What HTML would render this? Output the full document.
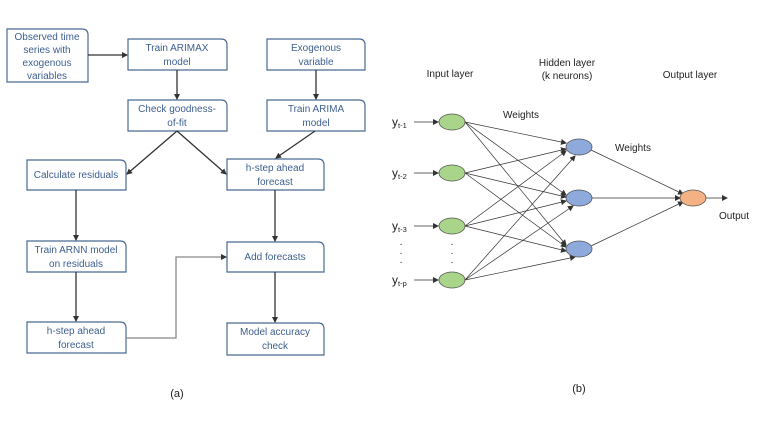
<!DOCTYPE html>
<html><head><style>
body{margin:0;background:#fff;}
svg{display:block;font-family:"Liberation Sans",sans-serif;}
.bx{fill:#fff;stroke:#4a6a95;stroke-width:1.2;}
.t{fill:#3d5f8f;font-size:10px;text-anchor:middle;}
.k{fill:#222;font-size:10px;text-anchor:middle;}
.ln{stroke:#333;stroke-width:1.3;fill:none;}
.nl{stroke:#333;stroke-width:0.7;fill:none;}
</style></head><body>
<svg width="765" height="431" viewBox="0 0 765 431">
<defs>
<marker id="a" markerWidth="6" markerHeight="6" refX="5" refY="3" orient="auto" markerUnits="userSpaceOnUse"><path d="M0,0L6,3L0,6z" fill="#333"/></marker>
</defs>
<g id="boxes">
<path class="bx" d="M7,29H82Q88,29 88,35V82H7Z"/>
<path class="bx" d="M128,39H221Q227,39 227,45V70H128Z"/>
<path class="bx" d="M267,39H359Q365,39 365,45V70H267Z"/>
<path class="bx" d="M128,100H221Q227,100 227,106V131H128Z"/>
<path class="bx" d="M267,100H359Q365,100 365,106V131H267Z"/>
<path class="bx" d="M27,160H120Q126,160 126,166V190H27Z"/>
<path class="bx" d="M227,159H318Q324,159 324,165V190H227Z"/>
<path class="bx" d="M27,241H120Q126,241 126,247V272H27Z"/>
<path class="bx" d="M227,242H318Q324,242 324,248V272H227Z"/>
<path class="bx" d="M27,322H120Q126,322 126,328V353H27Z"/>
<path class="bx" d="M227,323H318Q324,323 324,329V355H227Z"/>
</g>
<g class="t">
<text x="47" y="40">Observed time</text><text x="47" y="53">series with</text><text x="47" y="66">exogenous</text><text x="47" y="79">variables</text>
<text x="177" y="51">Train ARIMAX</text><text x="177" y="65">model</text>
<text x="316" y="51">Exogenous</text><text x="316" y="65">variable</text>
<text x="177" y="112">Check goodness-</text><text x="177" y="126">of-fit</text>
<text x="316" y="112">Train ARIMA</text><text x="316" y="126">model</text>
<text x="76" y="178">Calculate residuals</text>
<text x="275" y="171">h-step ahead</text><text x="275" y="185">forecast</text>
<text x="76" y="253">Train ARNN model</text><text x="76" y="267">on residuals</text>
<text x="275" y="260">Add forecasts</text>
<text x="76" y="334">h-step ahead</text><text x="76" y="348">forecast</text>
<text x="275" y="335">Model accuracy</text><text x="275" y="349">check</text>
</g>
<g class="ln" marker-end="url(#a)">
<line x1="88" y1="55" x2="127" y2="55"/>
<line x1="177" y1="70" x2="177" y2="99"/>
<line x1="316" y1="70" x2="316" y2="99"/>
<line x1="177" y1="131" x2="127" y2="174"/>
<line x1="177" y1="131" x2="226" y2="174"/>
<line x1="315" y1="131" x2="276" y2="158"/>
<line x1="76" y1="190" x2="76" y2="240"/>
<line x1="275" y1="190" x2="275" y2="241"/>
<line x1="76" y1="272" x2="76" y2="321"/>
<line x1="275" y1="272" x2="275" y2="322"/>
<path d="M126,338H176V257H226" style="stroke:#888"/>
</g>
<text x="177" y="397" font-size="11" text-anchor="middle" fill="#222">(a)</text>

<g class="nl" marker-end="url(#a)">
<line x1="414" y1="122" x2="438" y2="122"/>
<line x1="414" y1="173" x2="438" y2="173"/>
<line x1="414" y1="226" x2="438" y2="226"/>
<line x1="414" y1="280" x2="438" y2="280"/>
<line x1="465" y1="122" x2="566" y2="143"/>
<line x1="465" y1="122" x2="566" y2="195"/>
<line x1="465" y1="122" x2="566" y2="245"/>
<line x1="465" y1="173" x2="566" y2="149"/>
<line x1="465" y1="173" x2="566" y2="197"/>
<line x1="465" y1="173" x2="566" y2="247"/>
<line x1="465" y1="226" x2="566" y2="151"/>
<line x1="465" y1="226" x2="566" y2="201"/>
<line x1="465" y1="226" x2="566" y2="251"/>
<line x1="465" y1="280" x2="575" y2="156"/>
<line x1="465" y1="280" x2="573" y2="206"/>
<line x1="465" y1="280" x2="575" y2="257"/>
<line x1="591" y1="150" x2="683" y2="194"/>
<line x1="592" y1="198" x2="680" y2="198"/>
<line x1="591" y1="246" x2="683" y2="202"/>
<line x1="706" y1="198" x2="727" y2="198"/>
</g>
<g stroke="#555" stroke-width="0.8">
<ellipse cx="452" cy="122" rx="13" ry="8" fill="#a8d58a"/>
<ellipse cx="452" cy="173" rx="13" ry="8" fill="#a8d58a"/>
<ellipse cx="452" cy="226" rx="13" ry="8" fill="#a8d58a"/>
<ellipse cx="452" cy="280" rx="13" ry="8" fill="#a8d58a"/>
<ellipse cx="579" cy="147" rx="13" ry="8" fill="#8ea9dc"/>
<ellipse cx="579" cy="198" rx="13" ry="8" fill="#8ea9dc"/>
<ellipse cx="579" cy="249" rx="13" ry="8" fill="#8ea9dc"/>
<ellipse cx="693" cy="198" rx="13" ry="8" fill="#f4b183"/>
</g>
<g class="k">
<text x="450" y="77">Input layer</text>
<text x="567" y="66">Hidden layer</text><text x="567" y="79">(k neurons)</text>
<text x="690" y="78">Output layer</text>
<text x="521" y="118">Weights</text>
<text x="633" y="151">Weights</text>
<text x="734" y="219">Output</text>
<text x="452" y="247">·</text><text x="452" y="256">·</text><text x="452" y="265">·</text>
<text x="401" y="247">·</text><text x="401" y="256">·</text><text x="401" y="265">·</text>
</g>
<g fill="#222" font-size="12">
<text x="392" y="126">y<tspan font-size="7.5" dy="2">t-1</tspan></text>
<text x="392" y="177">y<tspan font-size="7.5" dy="2">t-2</tspan></text>
<text x="392" y="230">y<tspan font-size="7.5" dy="2">t-3</tspan></text>
<text x="392" y="284">y<tspan font-size="7.5" dy="2">t-p</tspan></text>
</g>
<text x="579" y="392" font-size="11" text-anchor="middle" fill="#222">(b)</text>
</svg>
</body></html>
